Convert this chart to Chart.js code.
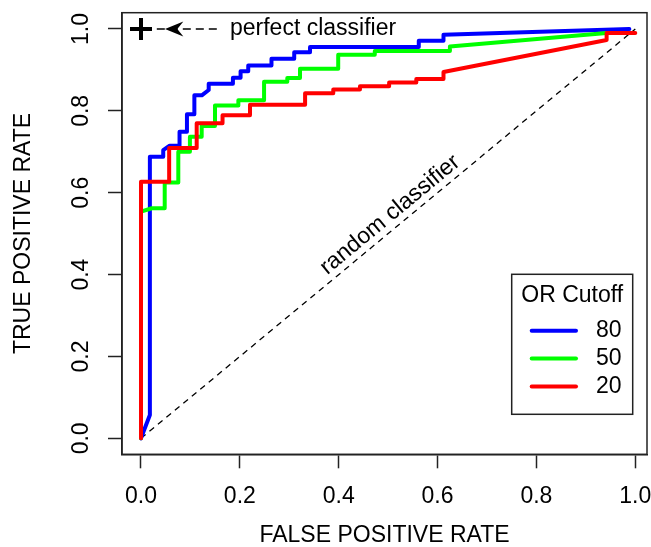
<!DOCTYPE html>
<html>
<head>
<meta charset="utf-8">
<script src="https://cdn.jsdelivr.net/npm/chart.js@4/dist/chart.umd.min.js"></script>
<style>
  body { margin: 0; background: #fff; }
  canvas { display: block; }
</style>
</head>
<body>
<canvas id="rocChart" width="651" height="547"></canvas>
<script>
// ROC curves (false positive rate / true positive rate)
const cutoffLabels = ['80', '50', '20'];
const cutoffColors = ['#0000ff', '#00ff00', '#ff0000'];

const fpr80 = [0, 0.018, 0.018, 0.045, 0.045, 0.058, 0.078, 0.078, 0.093, 0.093, 0.108, 0.108, 0.123, 0.137, 0.137, 0.186, 0.186, 0.2015, 0.2015, 0.217, 0.217, 0.264, 0.264, 0.31, 0.31, 0.342, 0.342, 0.562, 0.562, 0.612, 0.612, 0.988];
const tpr80 = [0, 0.057, 0.688, 0.688, 0.704, 0.715, 0.715, 0.749, 0.749, 0.792, 0.792, 0.838, 0.838, 0.851, 0.866, 0.866, 0.881, 0.881, 0.897, 0.897, 0.911, 0.911, 0.927, 0.927, 0.943, 0.943, 0.956, 0.956, 0.971, 0.971, 0.986, 1.0];

const fpr50 = [0, 0, 0.022, 0.048, 0.048, 0.0755, 0.0755, 0.099, 0.099, 0.1228, 0.1228, 0.1497, 0.1497, 0.197, 0.197, 0.249, 0.249, 0.296, 0.296, 0.3217, 0.3217, 0.399, 0.399, 0.473, 0.473, 0.625, 0.625, 0.942, 0.995];
const tpr50 = [0, 0.554, 0.562, 0.562, 0.625, 0.625, 0.700, 0.700, 0.737, 0.737, 0.763, 0.763, 0.813, 0.813, 0.826, 0.826, 0.871, 0.871, 0.880, 0.880, 0.903, 0.903, 0.937, 0.937, 0.946, 0.946, 0.957, 0.99, 0.99];

const fpr20 = [0, 0, 0.057, 0.057, 0.1127, 0.1127, 0.165, 0.165, 0.2205, 0.2205, 0.332, 0.332, 0.389, 0.389, 0.443, 0.443, 0.502, 0.502, 0.557, 0.557, 0.612, 0.612, 0.942, 0.942, 1.0];
const tpr20 = [0, 0.627, 0.627, 0.709, 0.709, 0.770, 0.770, 0.789, 0.789, 0.815, 0.815, 0.843, 0.843, 0.852, 0.852, 0.860, 0.860, 0.869, 0.869, 0.878, 0.878, 0.895, 0.973, 0.99, 0.99];

const randomX = [0, 1];
const randomY = [0, 1];
const perfectPoint = { x: 0, y: 1 };

const tickValues = [0, 0.2, 0.4, 0.6, 0.8, 1.0];

const FONT = '"Liberation Sans", Arial, sans-serif';
const AXIS = '#222';

const toPoints = (xs, ys) => xs.map((x, i) => ({ x: x, y: ys[i] }));

const rocSets = [
  { label: cutoffLabels[0], data: toPoints(fpr80, tpr80), color: cutoffColors[0], order: 3 },
  { label: cutoffLabels[1], data: toPoints(fpr50, tpr50), color: cutoffColors[1], order: 2 },
  { label: cutoffLabels[2], data: toPoints(fpr20, tpr20), color: cutoffColors[2], order: 1 },
];

const datasets = rocSets.map(s => ({
  label: s.label,
  data: s.data,
  borderColor: s.color,
  backgroundColor: s.color,
  borderWidth: 4,
  borderCapStyle: 'round',
  borderJoinStyle: 'round',
  pointRadius: 0,
  tension: 0,
  order: s.order,
}));

// random classifier diagonal
datasets.push({
  label: 'random',
  data: toPoints(randomX, randomY),
  borderColor: '#000',
  borderWidth: 1.3,
  borderDash: [6, 5],
  pointRadius: 0,
  order: 5,
});

// perfect classifier marker
datasets.push({
  label: 'perfect',
  data: [perfectPoint],
  showLine: false,
  pointStyle: 'cross',
  pointRadius: 11,
  borderColor: '#000',
  pointBorderWidth: 4,
  order: 0,
});

const fixedTicks = scale => {
  scale.ticks = tickValues.map(v => ({ value: v }));
};

// box, rotated y labels, annotations and legend
const extras = {
  id: 'extras',
  afterDraw(chart) {
    const ctx = chart.ctx;
    const area = chart.chartArea;
    const xs = chart.scales.x;
    const ys = chart.scales.y;

    ctx.save();
    ctx.strokeStyle = AXIS;
    ctx.lineWidth = 1.5;
    ctx.strokeRect(area.left, area.top, area.right - area.left, area.bottom - area.top);

    // y tick labels, turned like R does
    ctx.fillStyle = '#000';
    ctx.font = '23px ' + FONT;
    ctx.textAlign = 'center';
    ctx.textBaseline = 'middle';
    tickValues.forEach(v => {
      ctx.save();
      ctx.translate(82, ys.getPixelForValue(v));
      ctx.rotate(-Math.PI / 2);
      ctx.fillText(v.toFixed(1), 0, 0);
      ctx.restore();
    });

    // perfect classifier arrow
    const yTop = ys.getPixelForValue(1);
    ctx.strokeStyle = '#000';
    ctx.lineWidth = 1.3;
    ctx.setLineDash([8, 5]);
    ctx.beginPath();
    ctx.moveTo(xs.getPixelForValue(0.032), yTop);
    ctx.lineTo(xs.getPixelForValue(0.156), yTop);
    ctx.stroke();
    ctx.setLineDash([]);
    const tip = xs.getPixelForValue(0.0486);
    const back = xs.getPixelForValue(0.0857);
    const notch = xs.getPixelForValue(0.0735);
    ctx.beginPath();
    ctx.moveTo(tip, yTop);
    ctx.lineTo(back, yTop - 7.5);
    ctx.lineTo(notch, yTop);
    ctx.lineTo(back, yTop + 7.5);
    ctx.closePath();
    ctx.fill();

    ctx.textAlign = 'left';
    ctx.fillText('perfect classifier', xs.getPixelForValue(0.18), yTop);

    // random classifier label along the diagonal
    const ang = Math.atan2(ys.getPixelForValue(0) - ys.getPixelForValue(1),
                           xs.getPixelForValue(1) - xs.getPixelForValue(0));
    ctx.save();
    ctx.translate(xs.getPixelForValue(0.504), ys.getPixelForValue(0.546));
    ctx.rotate(-ang);
    ctx.textAlign = 'center';
    ctx.fillText('random classifier', 0, 0);
    ctx.restore();

    // legend box, bottom right
    const lw = 121, lh = 140;
    const lx = area.right - 14.3 - lw;
    const ly = area.bottom - 40 - lh;
    ctx.fillStyle = '#fff';
    ctx.fillRect(lx, ly, lw, lh);
    ctx.strokeStyle = AXIS;
    ctx.lineWidth = 1.5;
    ctx.strokeRect(lx, ly, lw, lh);
    ctx.fillStyle = '#000';
    ctx.textAlign = 'center';
    ctx.fillText('OR Cutoff', lx + lw / 2, ly + 21);
    rocSets.forEach((s, i) => {
      const yy = ly + 56.4 + i * 27.9;
      ctx.strokeStyle = s.color;
      ctx.lineWidth = 4;
      ctx.lineCap = 'round';
      ctx.beginPath();
      ctx.moveTo(lx + 20, yy);
      ctx.lineTo(lx + 64.3, yy);
      ctx.stroke();
      ctx.textAlign = 'left';
      ctx.fillText(s.label, lx + 84.3, yy);
    });
    ctx.restore();
  }
};

new Chart(document.getElementById('rocChart').getContext('2d'), {
  type: 'line',
  data: { datasets: datasets },
  options: {
    responsive: false,
    animation: false,
    layout: { autoPadding: false, padding: { top: 12.7, right: 4, left: 0, bottom: 0 } },
    plugins: { legend: { display: false }, tooltip: { enabled: false } },
    scales: {
      x: {
        type: 'linear',
        min: -0.0384,
        max: 1.0237,
        afterBuildTicks: fixedTicks,
        afterFit: scale => { scale.height = 92.7; scale.paddingLeft = 0; scale.paddingRight = 0; },
        ticks: {
          autoSkip: false,
          maxRotation: 0,
          padding: 15,
          color: '#000',
          font: { family: FONT, size: 23 },
          callback: v => v.toFixed(1),
        },
        grid: { drawOnChartArea: false, drawTicks: true, tickLength: 14, tickColor: AXIS, tickWidth: 1.5 },
        border: { display: true, color: AXIS, width: 1.5 },
        title: {
          display: true,
          text: 'FALSE POSITIVE RATE',
          color: '#000',
          font: { family: FONT, size: 23, lineHeight: 1 },
          padding: { top: 0, bottom: 0 },
        },
      },
      y: {
        type: 'linear',
        min: -0.039,
        max: 1.0398,
        afterBuildTicks: fixedTicks,
        afterFit: scale => { scale.width = 122; },
        ticks: { display: false },
        grid: { drawOnChartArea: false, drawTicks: true, tickLength: 14, tickColor: AXIS, tickWidth: 1.5 },
        border: { display: true, color: AXIS, width: 1.5 },
        title: {
          display: true,
          text: 'TRUE POSITIVE RATE',
          color: '#000',
          font: { family: FONT, size: 23, lineHeight: 1 },
          padding: { top: 12.5, bottom: 0 },
        },
      },
    },
  },
  plugins: [extras],
});
</script>
</body>
</html>
